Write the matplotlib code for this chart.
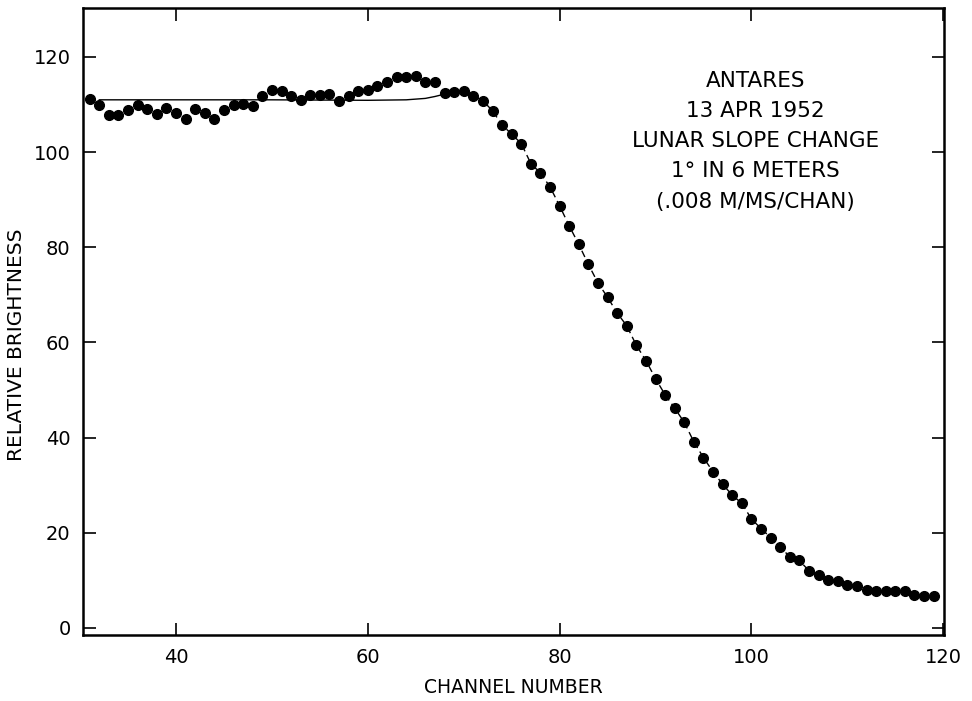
import matplotlib.pyplot as plt
import numpy as np

# channel numbers 31..119, one dot per channel
channels = np.arange(31, 120)
brightness = [
    111.1, 109.9, 107.8, 107.8, 108.8, 109.9, 109.0, 108.0, 109.2, 108.2,  # 31-40
    107.0, 109.1, 108.3, 106.9, 108.8, 110.0, 110.1, 109.7, 111.8, 113.0,  # 41-50
    112.9, 111.8, 110.9, 112.0, 112.1, 112.2, 110.8, 111.8, 112.9, 113.0,  # 51-60
    114.0, 114.8, 115.9, 115.9, 116.1, 114.8, 114.8, 112.5, 112.7, 112.8,  # 61-70
    111.9, 110.8, 108.7, 105.7, 103.8, 101.8, 97.6, 95.6, 92.7, 88.7,      # 71-80
    84.5, 80.6, 76.4, 72.5, 69.5, 66.2, 63.5, 59.4, 56.2, 52.4,            # 81-90
    49.0, 46.2, 43.2, 39.1, 35.8, 32.8, 30.2, 27.9, 26.2, 22.9,            # 91-100
    20.9, 19.0, 17.1, 14.9, 14.2, 12.0, 11.1, 10.1, 9.8, 9.0,              # 101-110
    8.9, 8.0, 7.8, 7.8, 7.8, 7.7, 6.9, 6.7, 6.8,                           # 111-119
]

# smooth reference level drawn through the flat part
level_x = [32, 40, 50, 60, 64, 66, 67, 68, 69]
level_y = [111.0, 111.0, 111.0, 110.9, 111.0, 111.3, 111.7, 112.2, 112.7]

note = "ANTARES\n13 APR 1952\nLUNAR SLOPE CHANGE\n1\u00b0 IN 6 METERS\n(.008 M/MS/CHAN)"

plt.rcParams['font.family'] = ['DejaVu Sans']

fig = plt.figure(figsize=(9.72, 7.01), dpi=100)
ax = fig.add_axes([0.0854, 0.094, 0.886, 0.8946])

ax.plot(level_x, level_y, color='black', lw=1.0)
ax.plot(channels[37:], brightness[37:], color='black', lw=1.0, ls=(0, (5, 3)))
ax.plot(channels, brightness, 'o', color='black', ms=7, mec='black')

ax.set_xlim(30.3, 120.1)
ax.set_ylim(-1.5, 130.3)
ax.set_xticks([40, 60, 80, 100, 120])
ax.set_yticks([0, 20, 40, 60, 80, 100, 120])
ax.tick_params(direction='in', length=9, width=1.2, top=True, right=True,
               labelsize=14, pad=9)
for s in ax.spines.values():
    s.set_linewidth(1.8)

ax.set_xlabel("CHANNEL NUMBER", fontsize=13.5, labelpad=8)
ax.set_ylabel("RELATIVE BRIGHTNESS", fontsize=14.5)
ax.yaxis.set_label_coords(-0.066, 0.463)

ax.text(0.781, 0.9, note, transform=ax.transAxes, ha='center', va='top',
        fontsize=15.5, linespacing=1.64)

fig.savefig("out.png", dpi=100)
